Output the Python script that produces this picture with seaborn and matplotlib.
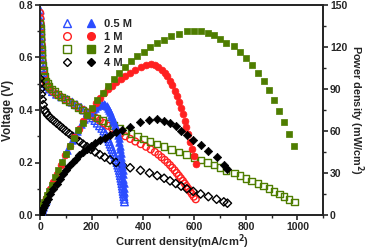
"""
Voltage / power density vs current density for four concentrations
"""

import numpy as np
import matplotlib
matplotlib.use("Agg")
import matplotlib.pyplot as plt
from matplotlib.lines import Line2D
from matplotlib.legend_handler import HandlerTuple
from matplotlib.ticker import MultipleLocator, FormatStrFormatter
import seaborn as sns

# ---- data ----
# 0.5 M
voltage_05 = [0.78, 0.76, 0.74, 0.72, 0.70, 0.68, 0.66, 0.64, 0.62, 0.60, 0.58, 0.56, 0.54, 0.52,
              0.50, 0.49, 0.48, 0.47, 0.46, 0.45, 0.44, 0.43, 0.42, 0.41, 0.40, 0.39, 0.38, 0.37,
              0.36, 0.35, 0.34, 0.33, 0.32, 0.31, 0.30, 0.29, 0.28, 0.27, 0.26, 0.25, 0.24, 0.23,
              0.22, 0.21, 0.20, 0.19, 0.18, 0.17, 0.16, 0.15, 0.14, 0.13, 0.12, 0.11, 0.10, 0.09,
              0.08, 0.07, 0.06, 0.05]
current_05 = [0, 1, 2, 3, 4, 5, 6, 7, 8, 9, 10, 12, 14, 17,
              22, 27, 36, 48, 64, 84, 106, 125, 143, 159, 172, 184, 194, 204,
              213, 222, 231, 240, 248, 254, 259, 264, 268, 272, 276, 280, 284, 288,
              292, 296, 299, 302, 305, 308, 310, 312, 314, 316, 318, 319.5, 321, 322.5,
              324, 325.5, 327, 328]

# 1 M
voltage_1 = [0.77, 0.75, 0.73, 0.71, 0.69, 0.67, 0.65, 0.63, 0.61, 0.59, 0.57, 0.55, 0.53, 0.51,
             0.50, 0.49, 0.48, 0.47, 0.46, 0.45, 0.44, 0.43, 0.42, 0.41, 0.40, 0.39, 0.38, 0.37,
             0.36, 0.35, 0.34, 0.33, 0.32, 0.31, 0.30, 0.29, 0.28, 0.27, 0.26, 0.25, 0.24, 0.23,
             0.22, 0.21, 0.20, 0.19, 0.18, 0.17, 0.16, 0.15, 0.14, 0.13, 0.12, 0.11, 0.10, 0.09,
             0.08, 0.07, 0.06]
current_1 = [0, 1, 2, 3, 4, 5, 6, 7, 8, 9, 11, 13, 16, 20,
             24, 30, 38, 50, 64, 80, 97, 115, 133, 150, 167, 184, 200, 216,
             232, 248, 264, 280, 296, 313, 331, 350, 370, 391, 412, 430, 446, 460,
             472, 484, 495, 505, 514, 523, 531, 539, 547, 555, 562, 569, 576, 583,
             590, 597, 605]

# 2 M
voltage_2 = [0.73, 0.71, 0.69, 0.67, 0.65, 0.63, 0.61, 0.59, 0.57, 0.55, 0.53, 0.51,
             0.50, 0.49, 0.48, 0.47, 0.46, 0.45, 0.44, 0.43, 0.42, 0.41, 0.40, 0.39, 0.38, 0.37,
             0.36, 0.35, 0.34, 0.33, 0.32, 0.31, 0.30, 0.29, 0.28, 0.27, 0.26, 0.25, 0.24, 0.23,
             0.22, 0.21, 0.20, 0.19, 0.18, 0.17, 0.16, 0.15, 0.14, 0.13, 0.12, 0.11, 0.10, 0.09,
             0.08, 0.07, 0.06, 0.05]
current_2 = [0, 1, 2, 3, 4, 5, 6, 8, 10, 13, 17, 23,
             28, 35, 45, 57, 70, 84, 99, 115, 131, 148, 165, 183, 202, 222,
             243, 264, 286, 308, 331, 354, 378, 402, 428, 454, 481, 510, 540, 570,
             598, 625, 651, 676, 700, 723, 755, 777, 800, 822, 846, 869, 890, 910,
             930, 948, 968, 988]

# 4 M
voltage_4 = [0.52, 0.50, 0.48, 0.46, 0.44, 0.42, 0.40, 0.39, 0.38, 0.37, 0.36, 0.35, 0.34, 0.33,
             0.32, 0.31, 0.30, 0.29, 0.28, 0.27, 0.26, 0.25, 0.24, 0.23, 0.22, 0.21, 0.20, 0.19,
             0.18, 0.17, 0.16, 0.15, 0.14, 0.13, 0.12, 0.11, 0.10, 0.09, 0.08, 0.07, 0.06, 0.05,
             0.045]
current_4 = [0, 1, 3, 5, 8, 12, 18, 23, 30, 40, 52, 64, 76, 88,
             100, 113, 126, 139, 153, 167, 182, 197, 214, 232, 251, 272, 295, 320,
             350, 390, 425, 455, 482, 505, 527, 548, 570, 595, 624, 654, 686, 714,
             728]

labels = ["0.5 M", "1 M", "2 M", "4 M"]
colors = ["#2b4cff", "#ff2020", "#4e7d00", "#000000"]
markers = ["^", "o", "s", "D"]

series = [
    (current_05, voltage_05),
    (current_1, voltage_1),
    (current_2, voltage_2),
    (current_4, voltage_4),
]

# ---- figure ----
sns.set_style("ticks")
plt.rcParams["font.family"] = ["Liberation Sans", "DejaVu Sans"]
plt.rcParams["font.weight"] = "bold"
plt.rcParams["mathtext.default"] = "bf"

fig = plt.figure(figsize=(3.68, 2.5), dpi=100)
ax = fig.add_axes([0.109, 0.14, 0.769, 0.84])
ax2 = ax.twinx()

sizes = {"^": 30, "o": 24, "s": 22, "D": 18}

for (cur, volt), lab, c, m in zip(series, labels, colors, markers):
    cur = np.array(cur, dtype=float)
    volt = np.array(volt, dtype=float)
    # power density (mW/cm2) = current density (mA/cm2) x voltage (V)
    power = cur * volt
    sns.scatterplot(x=cur, y=volt, ax=ax, marker=m, s=sizes[m],
                    facecolor="none", edgecolor=c, linewidth=1.0, zorder=3)
    sns.scatterplot(x=cur, y=power, ax=ax2, marker=m, s=sizes[m],
                    color=c, edgecolor=c, linewidth=0.5, zorder=3)

ax.set_xlim(0, 1100)
ax.set_ylim(0, 0.8)
ax2.set_ylim(0, 150)

ax.xaxis.set_major_locator(MultipleLocator(200))
ax.xaxis.set_minor_locator(MultipleLocator(100))
ax.yaxis.set_major_locator(MultipleLocator(0.2))
ax.yaxis.set_minor_locator(MultipleLocator(0.1))
ax.yaxis.set_major_formatter(FormatStrFormatter("%.1f"))
ax2.yaxis.set_major_locator(MultipleLocator(30))
ax2.yaxis.set_minor_locator(MultipleLocator(15))

for a in (ax, ax2):
    a.tick_params(which="major", direction="out", length=3.5, width=1.2, labelsize=7.5, pad=1.5)
    a.tick_params(which="minor", direction="out", length=2, width=1)
    for sp in a.spines.values():
        sp.set_linewidth(1.3)
        sp.set_visible(True)
    for t in a.get_xticklabels() + a.get_yticklabels():
        t.set_fontweight("bold")

ax.set_xlabel("Current density(mA/cm$^2$)", fontsize=8, fontweight="bold", labelpad=0)
ax.set_ylabel("Voltage (V)", fontsize=8.5, fontweight="bold", labelpad=3)
ax2.set_ylabel("Power density (mW/cm$^2$)", fontsize=7.8, fontweight="bold",
               rotation=270, labelpad=13.5)

# legend: open + filled marker pairs
handles = []
for c, m in zip(colors, markers):
    ms = 5.5 if m != "D" else 4.5
    h_open = Line2D([], [], linestyle="none", marker=m, markersize=ms,
                    markerfacecolor="none", markeredgecolor=c, markeredgewidth=1.0)
    h_fill = Line2D([], [], linestyle="none", marker=m, markersize=ms,
                    markerfacecolor=c, markeredgecolor=c)
    handles.append((h_open, h_fill))

ax.legend(handles, labels, handler_map={tuple: HandlerTuple(ndivide=None, pad=1.2)},
          loc="upper left", bbox_to_anchor=(0.04, 0.98), frameon=False,
          handlelength=3.2, handletextpad=0.6, labelspacing=0.25,
          prop={"weight": "bold", "size": 8})

fig.savefig("out.png", dpi=100)
